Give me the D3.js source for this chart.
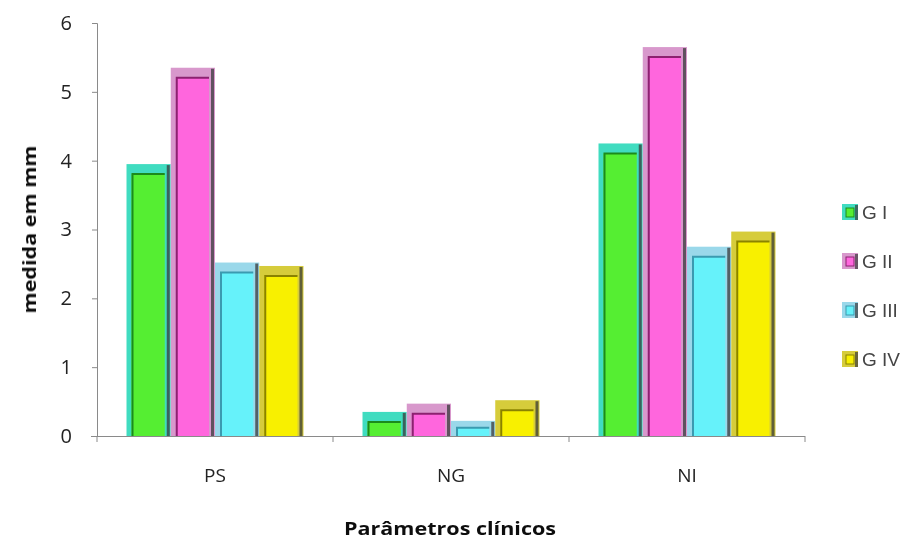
<!DOCTYPE html>
<html>
<head>
<meta charset="utf-8">
<script src="https://cdn.jsdelivr.net/npm/d3@7"></script>
<style>
  html, body { margin: 0; padding: 0; background: #ffffff; }
  svg { display: block; }
</style>
</head>
<body>
<svg id="chart" width="912" height="542"></svg>
<script>
// Clinical parameters by group (mm)
const categories = ["PS", "NG", "NI"];
const seriesNames = ["G I", "G II", "G III", "G IV"];
const gI   = [3.95, 0.35, 4.25];
const gII  = [5.35, 0.47, 5.65];
const gIII = [2.52, 0.22, 2.75];
const gIV  = [2.47, 0.52, 2.97];
const yTicks = [0, 1, 2, 3, 4, 5, 6];

const seriesValues = [gI, gII, gIII, gIV];

// Bevelled column look: body, cap/rim, inner edge line
const styles = [
  { body: "#55ee33", rim: "#3fdcc0", edge: "#1f8a1f" },
  { body: "#ff66dd", rim: "#d898cc", edge: "#8c2070" },
  { body: "#66f2fa", rim: "#9ad8ea", edge: "#3a9ab0" },
  { body: "#f8f000", rim: "#d6cc3a", edge: "#8a8200" }
];

const labelFont = "'Open Sans', Lato, sans-serif";

const svg = d3.select("#chart");

// soft focus over the whole drawing
const defs = svg.append("defs");
defs.append("filter").attr("id", "soft")
  .append("feGaussianBlur").attr("stdDeviation", 0.55);

const root = svg.append("g").attr("filter", "url(#soft)");

const plot = { left: 97, right: 805, top: 23, bottom: 436 };

const y = d3.scaleLinear().domain([0, 6]).range([plot.bottom, plot.top]);
const x0 = d3.scaleBand().domain(categories).range([plot.left, plot.right]).padding(0);
const x1 = d3.scaleBand().domain(seriesNames).range([0, x0.bandwidth()])
  .paddingInner(0).paddingOuter(0.667);

// Y axis
const yAxis = d3.axisLeft(y).tickValues(yTicks).tickSize(5).tickPadding(20)
  .tickFormat(d3.format("d"));
const gy = root.append("g").attr("transform", `translate(${plot.left},0)`).call(yAxis);
gy.select(".domain").attr("stroke", "#8a8a8a");
gy.selectAll(".tick line").attr("stroke", "#8a8a8a");
gy.selectAll(".tick text")
  .attr("font-family", labelFont)
  .attr("font-size", 20).attr("fill", "#222");

// X axis baseline with category separators
const xAxis = d3.axisBottom(x0).tickSize(0).tickPadding(33);
const gx = root.append("g").attr("transform", `translate(0,${plot.bottom})`).call(xAxis);
gx.select(".domain").attr("stroke", "#8a8a8a").attr("d", `M${plot.left - 6},0.5H${plot.right}`);
gx.selectAll(".tick text")
  .attr("font-family", labelFont)
  .attr("font-size", 19).attr("fill", "#222");
const sep = categories.map(c => x0(c)).concat([plot.right]);
gx.selectAll("line.sep").data(sep).enter().append("line")
  .attr("class", "sep")
  .attr("x1", d => d).attr("x2", d => d)
  .attr("y1", 0).attr("y2", 6)
  .attr("stroke", "#8a8a8a");

// Columns
const groups = root.append("g").selectAll("g.cat")
  .data(categories).enter().append("g")
  .attr("class", "cat")
  .attr("transform", d => `translate(${x0(d)},0)`);

groups.each(function (cat, ci) {
  const g = d3.select(this);
  seriesNames.forEach((s, si) => {
    const v = seriesValues[si][ci];
    const st = styles[si];
    const bx = x1(s);
    const bw = x1.bandwidth();
    const top = y(v);
    const h = y(0) - top;
    const cap = Math.min(10, h * 0.45);
    const bar = g.append("g");
    // rim / cap
    bar.append("rect").attr("x", bx).attr("y", top).attr("width", bw).attr("height", h)
      .attr("fill", st.rim);
    // body
    bar.append("rect").attr("x", bx + 5).attr("y", top + cap)
      .attr("width", bw - 11).attr("height", Math.max(0, h - cap))
      .attr("fill", st.body);
    // inner edge under cap and along left side
    bar.append("path")
      .attr("d", `M${bx + 6},${y(0)}V${top + cap}H${bx + bw - 6}`)
      .attr("fill", "none").attr("stroke", st.edge).attr("stroke-width", 2);
    // dark shadow on the right
    bar.append("rect").attr("x", bx + bw - 4).attr("y", top + 1)
      .attr("width", 3).attr("height", h - 1)
      .attr("fill", "#3a3a3a").attr("opacity", 0.75);
  });
});

// Axis titles
root.append("text")
  .attr("transform", `translate(36,${(plot.top + plot.bottom) / 2}) rotate(-90)`)
  .attr("text-anchor", "middle")
  .attr("font-family", labelFont)
  .attr("font-weight", "bold").attr("font-size", 18).attr("fill", "#111")
  .attr("textLength", 168).attr("lengthAdjust", "spacingAndGlyphs")
  .text("medida em mm");

root.append("text")
  .attr("x", 450).attr("y", 535)
  .attr("text-anchor", "middle")
  .attr("font-family", labelFont)
  .attr("font-weight", "bold").attr("font-size", 18).attr("fill", "#111")
  .attr("textLength", 212).attr("lengthAdjust", "spacingAndGlyphs")
  .text("Parâmetros clínicos");

// Legend
const legend = root.append("g").attr("transform", "translate(842,204)");
const item = legend.selectAll("g.item").data(seriesNames).enter().append("g")
  .attr("class", "item")
  .attr("transform", (d, i) => `translate(0,${i * 49})`);
item.append("rect").attr("width", 16).attr("height", 16)
  .attr("fill", (d, i) => styles[i].rim);
item.append("rect").attr("x", 4).attr("y", 4).attr("width", 8).attr("height", 9)
  .attr("fill", (d, i) => styles[i].body)
  .attr("stroke", (d, i) => styles[i].edge).attr("stroke-width", 1);
item.append("rect").attr("x", 13).attr("y", 1).attr("width", 3).attr("height", 15)
  .attr("fill", "#3a3a3a").attr("opacity", 0.7);
item.append("text").attr("x", 20).attr("y", 15)
  .attr("font-family", "'Liberation Sans', Arial, sans-serif")
  .attr("font-size", 19).attr("fill", "#444")
  .text(d => d);
</script>
</body>
</html>
